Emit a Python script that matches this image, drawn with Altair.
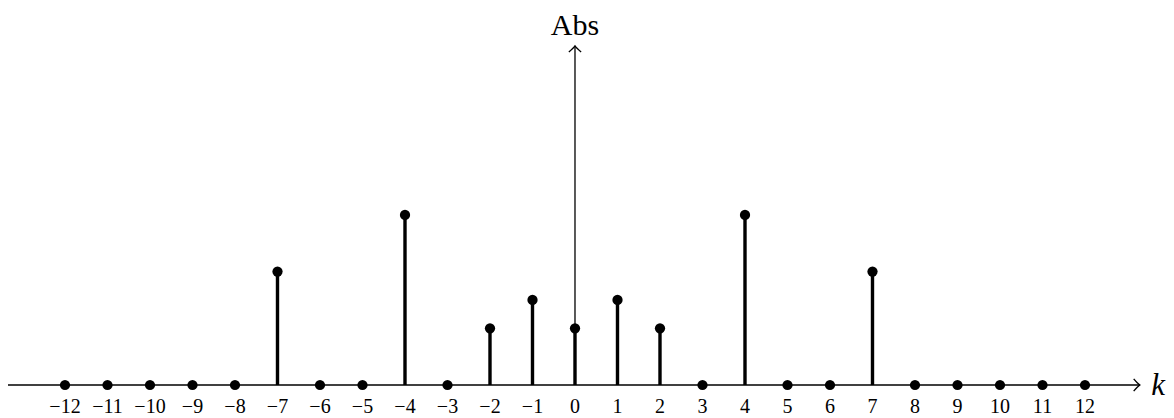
import altair as alt
import pandas as pd

# ---- data ----
k_values = list(range(-12, 13))
abs_values = [0, 0, 0, 0, 0, 2, 0, 0, 3, 0, 1, 1.5, 1, 1.5, 1, 0, 3, 0, 0, 2, 0, 0, 0, 0, 0]
tick_labels = ["−12", "−11", "−10", "−9", "−8", "−7", "−6", "−5", "−4", "−3", "−2", "−1",
               "0", "1", "2", "3", "4", "5", "6", "7", "8", "9", "10", "11", "12"]
x_title = "k"
y_title = "Abs"

df = pd.DataFrame({"k": k_values, "v": abs_values, "label": tick_labels})
stems = df[df["v"] > 0]

X_DOM = [-13.341, 13.906]
Y_DOM = [-0.582, 6.649]
xs = alt.Scale(domain=X_DOM, nice=False, zero=False)
ys = alt.Scale(domain=Y_DOM, nice=False, zero=False)

X_END = 13.29
Y_END = 5.98

def X(field):
    return alt.X(field, type="quantitative", scale=xs, axis=None)

def Y(field):
    return alt.Y(field, type="quantitative", scale=ys, axis=None)

base = alt.Chart(df)

# horizontal axis line
xaxis = alt.Chart(pd.DataFrame({"x": [X_DOM[0]], "x2": [X_END], "y": [0]})).mark_rule(
    color="black", strokeWidth=1.3
).encode(x=X("x"), x2="x2", y=Y("y"))

# vertical axis line
yaxis = alt.Chart(pd.DataFrame({"x": [0], "y": [0], "y2": [Y_END]})).mark_rule(
    color="black", strokeWidth=1.3
).encode(x=X("x"), y=Y("y"), y2="y2")

right_arrow = alt.Chart(pd.DataFrame({"x": [X_END], "y": [0]})).mark_point(
    shape="M-1,-1 Q-0.35,-0.25 0,0 Q-0.35,0.25 -1,1",
    filled=False, stroke="black", strokeWidth=1.4, size=150, opacity=1
).encode(x=X("x"), y=Y("y"))

up_arrow = alt.Chart(pd.DataFrame({"x": [0], "y": [Y_END]})).mark_point(
    shape="M-1,1 Q-0.25,0.35 0,0 Q0.25,0.35 1,1",
    filled=False, stroke="black", strokeWidth=1.4, size=150, opacity=1
).encode(x=X("x"), y=Y("y"))

stem_lines = alt.Chart(stems).transform_calculate(zero="0").mark_rule(
    color="black", strokeWidth=3.4
).encode(x=X("k"), y=Y("zero:Q"), y2="v")

dots = base.mark_circle(color="black", size=105, opacity=1).encode(x=X("k"), y=Y("v"))

labels = base.transform_calculate(zero="0").mark_text(
    font="Liberation Serif", fontSize=20, baseline="alphabetic", align="center", dy=28, color="black"
).encode(x=X("k"), y=Y("zero:Q"), text="label")

k_label = alt.Chart(pd.DataFrame({"x": [13.72], "y": [0], "t": [x_title]})).mark_text(
    font="Liberation Serif", fontStyle="italic", fontSize=31, baseline="alphabetic",
    align="center", dy=10, color="black"
).encode(x=X("x"), y=Y("y"), text="t")

abs_label = alt.Chart(pd.DataFrame({"x": [0], "y": [6.173], "t": [y_title]})).mark_text(
    font="Liberation Serif", fontSize=30, baseline="alphabetic", align="center", color="black"
).encode(x=X("x"), y=Y("y"), text="t")

chart = alt.layer(
    xaxis, yaxis, right_arrow, up_arrow, stem_lines, dots, labels, k_label, abs_label
).properties(
    width=1158, height=410,
    autosize=alt.AutoSizeParams(type="none"), padding=0
).configure_view(strokeWidth=0)

chart.save("out.html", embed_options={"renderer": "svg", "actions": False})
